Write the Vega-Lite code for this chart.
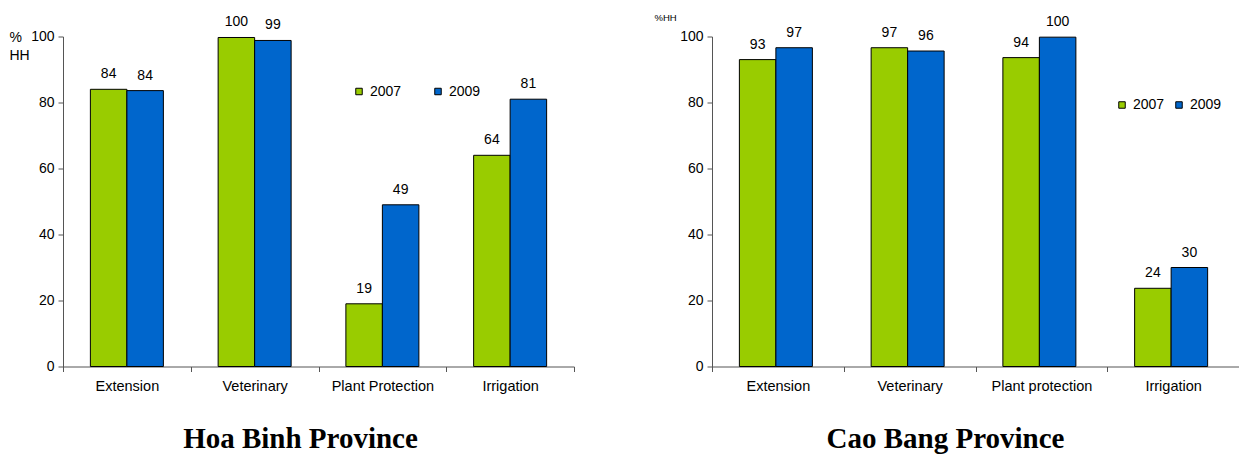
{
  "$schema": "https://vega.github.io/schema/vega-lite/v6.json",
  "autosize": {"type": "pad"},
  "padding": {"left": 9, "top": 12.5, "right": 0, "bottom": 0},
  "background": "white",
  "bounds": "flush",
  "spacing": 138,
  "config": {
    "font": "Liberation Sans",
    "view": {"stroke": null},
    "axis": {
      "grid": false,
      "labelFont": "Liberation Sans",
      "labelFontSize": 14,
      "labelColor": "black",
      "domainColor": "#555",
      "tickColor": "#555",
      "tickSize": 5
    },
    "legend": {
      "orient": "none",
      "direction": "horizontal",
      "title": null,
      "symbolType": "square",
      "symbolSize": 42,
      "symbolStrokeColor": "black",
      "symbolStrokeWidth": 1,
      "symbolOpacity": 1,
      "labelFont": "Liberation Sans",
      "labelFontSize": 14,
      "labelColor": "black",
      "labelOffset": 4,
      "padding": 0
    }
  },
  "data": {
    "values": [
      {"province": "Hoa Binh", "service": "Extension", "year": "2007", "pct": 84.0},
      {"province": "Hoa Binh", "service": "Extension", "year": "2009", "pct": 83.6},
      {"province": "Hoa Binh", "service": "Veterinary", "year": "2007", "pct": 99.7},
      {"province": "Hoa Binh", "service": "Veterinary", "year": "2009", "pct": 98.8},
      {"province": "Hoa Binh", "service": "Plant Protection", "year": "2007", "pct": 19.0},
      {"province": "Hoa Binh", "service": "Plant Protection", "year": "2009", "pct": 49.0},
      {"province": "Hoa Binh", "service": "Irrigation", "year": "2007", "pct": 64.0},
      {"province": "Hoa Binh", "service": "Irrigation", "year": "2009", "pct": 81.0},
      {"province": "Cao Bang", "service": "Extension", "year": "2007", "pct": 93.0},
      {"province": "Cao Bang", "service": "Extension", "year": "2009", "pct": 96.6},
      {"province": "Cao Bang", "service": "Veterinary", "year": "2007", "pct": 96.6},
      {"province": "Cao Bang", "service": "Veterinary", "year": "2009", "pct": 95.6},
      {"province": "Cao Bang", "service": "Plant protection", "year": "2007", "pct": 93.6},
      {"province": "Cao Bang", "service": "Plant protection", "year": "2009", "pct": 99.8},
      {"province": "Cao Bang", "service": "Irrigation", "year": "2007", "pct": 23.7},
      {"province": "Cao Bang", "service": "Irrigation", "year": "2009", "pct": 30.0}
    ]
  },
  "resolve": {"scale": {"color": "independent"}, "legend": {"color": "independent"}},
  "hconcat": [
    {
      "width": 511,
      "height": 330,
      "transform": [{"filter": "datum.province === 'Hoa Binh'"}],
      "title": {
        "text": "Hoa Binh Province",
        "orient": "bottom",
        "frame": "group",
        "anchor": "middle",
        "dx": -18,
        "offset": 32,
        "font": "Liberation Serif",
        "fontSize": 29,
        "fontWeight": "bold",
        "color": "black"
      },
      "encoding": {
        "x": {
          "field": "service",
          "type": "nominal",
          "sort": ["Extension", "Veterinary", "Plant Protection", "Irrigation"],
          "scale": {"paddingInner": 0, "paddingOuter": 0},
          "axis": {"title": null, "labelAngle": 0, "tickBand": "extent", "labelPadding": 8, "labelFontSize": 14.5}
        },
        "xOffset": {
          "field": "year",
          "type": "nominal",
          "scale": {"paddingInner": 0, "paddingOuter": 0.75}
        },
        "y": {
          "field": "pct",
          "type": "quantitative",
          "scale": {"domain": [0, 100], "nice": false},
          "axis": {
            "values": [0, 20, 40, 60, 80, 100],
            "labelPadding": 4,
            "title": ["%", "HH"],
            "titleAngle": 0,
            "titleAlign": "left",
            "titleBaseline": "top",
            "titleX": -54,
            "titleY": -6.5,
            "titleFont": "Liberation Sans",
            "titleFontSize": 14,
            "titleFontWeight": "normal",
            "titleLineHeight": 18,
            "titleColor": "black"
          }
        }
      },
      "layer": [
        {
          "mark": {"type": "bar", "stroke": "black", "strokeWidth": 1},
          "encoding": {
            "color": {
              "field": "year",
              "type": "nominal",
              "scale": {"domain": ["2007", "2009"], "range": ["#99CC00", "#0066CC"]},
              "legend": {"legendX": 289, "legendY": 48, "columnPadding": 29}
            }
          }
        },
        {
          "mark": {"type": "text", "baseline": "alphabetic", "dy": -11, "fontSize": 14, "color": "black"},
          "encoding": {"text": {"field": "pct", "type": "quantitative", "format": ".0f"}}
        }
      ]
    },
    {
      "width": 527,
      "height": 330,
      "transform": [{"filter": "datum.province === 'Cao Bang'"}],
      "title": {
        "text": "Cao Bang Province",
        "orient": "bottom",
        "frame": "group",
        "anchor": "middle",
        "dx": -30,
        "offset": 32,
        "font": "Liberation Serif",
        "fontSize": 29,
        "fontWeight": "bold",
        "color": "black"
      },
      "encoding": {
        "x": {
          "field": "service",
          "type": "nominal",
          "sort": ["Extension", "Veterinary", "Plant protection", "Irrigation"],
          "scale": {"paddingInner": 0, "paddingOuter": 0},
          "axis": {"title": null, "labelAngle": 0, "tickBand": "extent", "labelPadding": 8, "labelFontSize": 14.5}
        },
        "xOffset": {
          "field": "year",
          "type": "nominal",
          "scale": {"paddingInner": 0, "paddingOuter": 0.74}
        },
        "y": {
          "field": "pct",
          "type": "quantitative",
          "scale": {"domain": [0, 100], "nice": false},
          "axis": {
            "values": [0, 20, 40, 60, 80, 100],
            "labelPadding": 4,
            "title": "%HH",
            "titleAngle": 0,
            "titleAlign": "left",
            "titleBaseline": "top",
            "titleX": -58,
            "titleY": -24,
            "titleFont": "Liberation Sans",
            "titleFontSize": 9.5,
            "titleFontWeight": "normal",
            "titleColor": "black"
          }
        }
      },
      "layer": [
        {
          "mark": {"type": "bar", "stroke": "black", "strokeWidth": 1},
          "encoding": {
            "color": {
              "field": "year",
              "type": "nominal",
              "scale": {"domain": ["2007", "2009"], "range": ["#99CC00", "#0066CC"]},
              "legend": {"legendX": 403, "legendY": 61.5, "columnPadding": 7}
            }
          }
        },
        {
          "mark": {"type": "text", "baseline": "alphabetic", "dy": -11, "fontSize": 14, "color": "black"},
          "encoding": {"text": {"field": "pct", "type": "quantitative", "format": ".0f"}}
        }
      ]
    }
  ]
}
